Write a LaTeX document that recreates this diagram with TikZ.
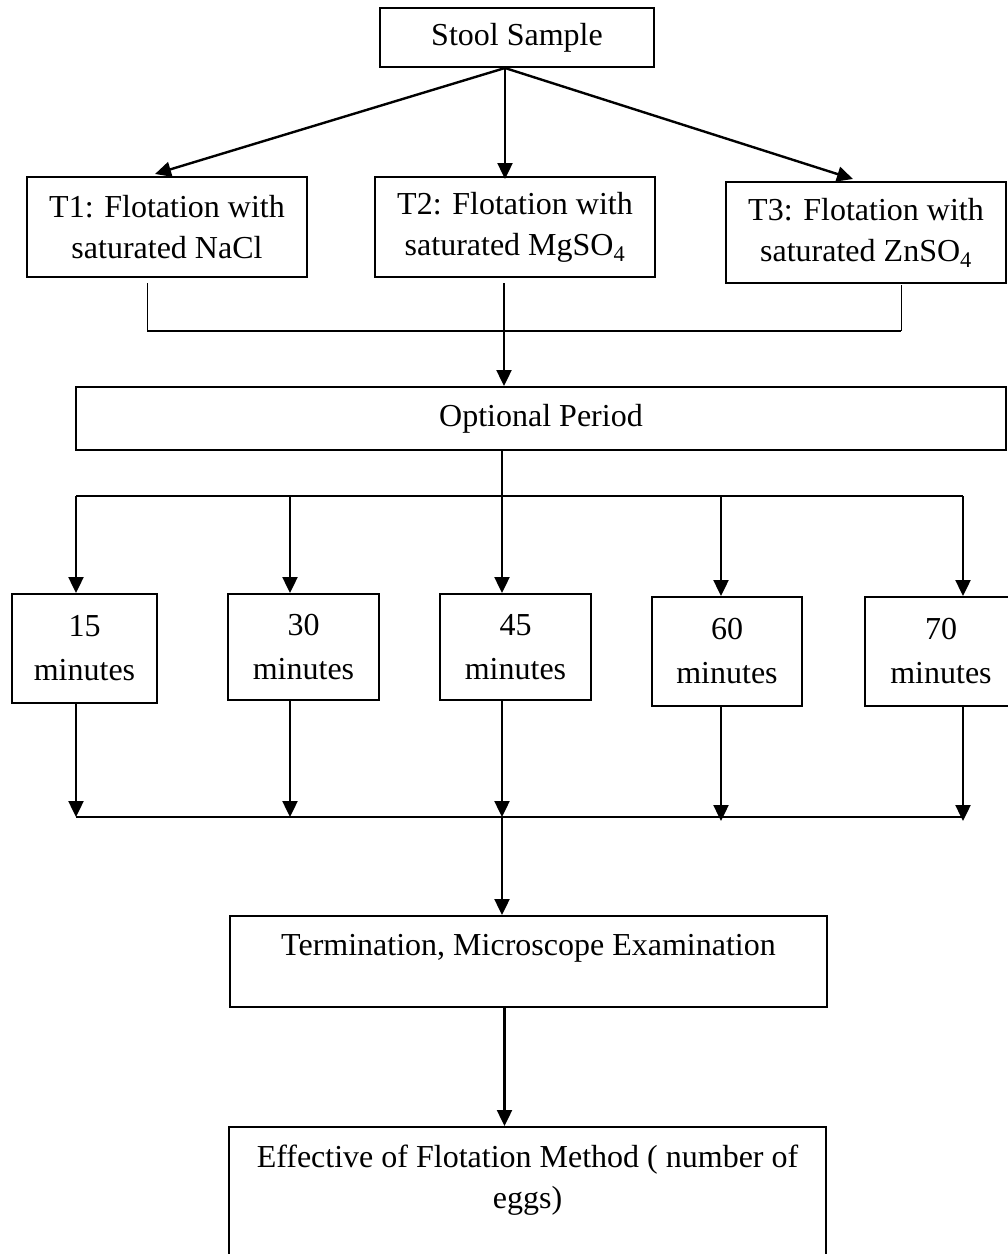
\documentclass[tikz,border=0pt]{standalone}
\usepackage{fontspec}
\setmainfont{Liberation Serif}
\usetikzlibrary{positioning,arrows.meta}

\begin{document}
\begin{tikzpicture}[x=1pt, y=-1pt, thick, font=\fontsize{32}{41}\selectfont,
    box/.style = {draw, line width=2pt, inner sep=0pt, align=center},
    minbox/.style = {box, font=\fontsize{32}{44}\selectfont},
    boxtext/.style = {inner sep=0pt, align=center},
    arr/.style = {line width=2.4pt, -{Triangle[length=16pt,width=15pt]}},
    bus/.style = {line width=1.8pt},
    thinbus/.style = {line width=1pt}]
  \useasboundingbox (0,0) rectangle (1008,1254);
  \clip (0,0) rectangle (1008,1254);
  % Define nodes
  \node[box, minimum width=274pt, minimum height=59pt] (stool) at (517,37.5) {Stool Sample};
  \node[box, minimum width=280pt, minimum height=100pt] (t1) at (167,227) {T1: Flotation with\\saturated NaCl};
  \node[box, minimum width=280pt, minimum height=100pt] (t2) at (515,227) {T2: Flotation with\\saturated MgSO\textsubscript{4}};
  \node[box, minimum width=280pt, minimum height=101pt] (t3) at (866,232.5) {T3: Flotation with\\saturated ZnSO\textsubscript{4}};
  \node[box, minimum width=930pt, minimum height=63pt] (opt) at (541,418.5) {Optional Period};
  \node[minbox, minimum width=145pt, minimum height=109pt] (m15) at (84.5,648.5) {15\\minutes};
  \node[minbox, minimum width=151pt, minimum height=106pt] (m30) at (303.5,647) {30\\minutes};
  \node[minbox, minimum width=151pt, minimum height=106pt] (m45) at (515.5,647) {45\\minutes};
  \node[minbox, minimum width=150pt, minimum height=109pt] (m60) at (727,651.5) {60\\minutes};
  \node[minbox, minimum width=152pt, minimum height=109pt] (m70) at (941,651.5) {70\\minutes};
  \node[box, minimum width=597pt, minimum height=91pt] (term) at (528.5,961.5) {};
  \node[boxtext, below=19pt of term.north] (termtext) {Termination, Microscope Examination};
  \node[box, minimum width=597pt, minimum height=160pt] (eff) at (527.5,1207) {};
  \node[boxtext, below=19pt of eff.north] (efftext) {Effective of Flotation Method ( number of\\eggs)};
  \coordinate (tbus) at (504,331);
  \coordinate (obus) at (502,496);
  \coordinate (bbus) at (502,817);
  % Add edges
  \draw[arr] ([xshift=-12pt]stool.south) -- ([xshift=-12pt,yshift=2pt]t1.north);
  \draw[arr] ([xshift=-12pt]stool.south) -- ([xshift=-10pt,yshift=-3pt]t2.north);
  \draw[arr] ([xshift=-12pt]stool.south) -- ([xshift=-13pt,yshift=2pt]t3.north);
  \draw[thinbus] ([xshift=-20pt,yshift=-5pt]t1.south) -- ([xshift=-20pt]t1.south |- tbus);
  \draw[thinbus] ([xshift=35pt,yshift=-1pt]t3.south) -- ([xshift=35pt]t3.south |- tbus);
  \draw[bus] ([xshift=-20pt]t1.south |- tbus) -- ([xshift=35pt]t3.south |- tbus);
  \draw[arr] ([xshift=-11pt,yshift=-5pt]t2.south) -- (tbus |- opt.north);
  \draw[bus] ([xshift=-39pt]opt.south) -- (obus);
  \draw[bus] ([xshift=-8.5pt]m15.north |- obus) -- ([xshift=22pt]m70.north |- obus);
  \draw[arr] ([xshift=-8.5pt]m15.north |- obus) -- ([xshift=-8.5pt]m15.north);
  \draw[arr] ([xshift=-13.5pt]m30.north |- obus) -- ([xshift=-13.5pt]m30.north);
  \draw[arr] (obus) -- (obus |- m45.north);
  \draw[arr] ([xshift=-6pt]m60.north |- obus) -- ([xshift=-6pt]m60.north);
  \draw[arr] ([xshift=22pt]m70.north |- obus) -- ([xshift=22pt]m70.north);
  \draw[arr] ([xshift=-8.5pt]m15.south) -- ([xshift=-8.5pt]m15.south |- bbus);
  \draw[arr] ([xshift=-13.5pt]m30.south) -- ([xshift=-13.5pt]m30.south |- bbus);
  \draw[arr] (bbus |- m45.south) -- (bbus);
  \draw[arr] ([xshift=-6pt]m60.south) -- ([xshift=-6pt,yshift=-4pt]m60.south |- bbus);
  \draw[arr] ([xshift=22pt]m70.south) -- ([xshift=22pt,yshift=-4pt]m70.south |- bbus);
  \draw[bus] ([xshift=-8.5pt]m15.south |- bbus) -- ([xshift=22pt]m70.south |- bbus);
  \draw[arr] (bbus) -- (bbus |- term.north);
  \draw[arr] ([xshift=-24pt]term.south) -- ([xshift=-23pt]eff.north);
\end{tikzpicture}
\end{document}
